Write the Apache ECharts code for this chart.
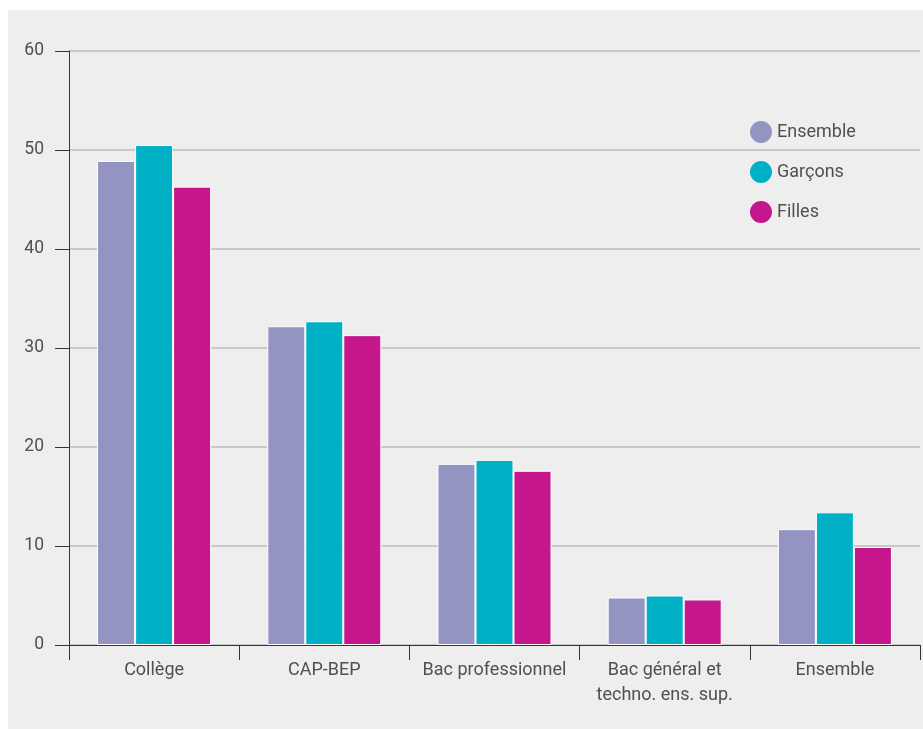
<!DOCTYPE html>
<html>
<head>
<meta charset="utf-8">
<script src="https://cdn.jsdelivr.net/npm/echarts@6/dist/echarts.min.js"></script>
<style>
html,body{margin:0;padding:0;background:#ffffff;}
#chart{position:absolute;left:8px;top:10px;width:915px;height:719px;}
</style>
</head>
<body>
<div id="chart"></div>
<script>
var categories = ['Collège', 'CAP-BEP', 'Bac professionnel', 'Bac général et\ntechno. ens. sup.', 'Ensemble'];
var seriesNames = ['Ensemble', 'Garçons', 'Filles'];
var ensemble = [48.9, 32.2, 18.3, 4.8, 11.7];
var garcons = [50.5, 32.7, 18.7, 5.0, 13.4];
var filles = [46.3, 31.3, 17.6, 4.6, 9.9];
var yTicks = { min: 0, max: 60, interval: 10 };
var colors = ['#9494c2', '#00b0c4', '#c5168c'];

var chart = echarts.init(document.getElementById('chart'));
var font = 'Roboto, "Liberation Sans", sans-serif';
var data = [ensemble, garcons, filles];
chart.setOption({
  backgroundColor: '#eeeeee',
  animation: false,
  textStyle: { fontFamily: font },
  grid: { left: 61, top: 41, right: 3, bottom: 84, containLabel: false },
  legend: {
    orient: 'vertical',
    left: 737, top: 106,
    icon: 'circle',
    itemWidth: 22, itemHeight: 22,
    itemGap: 18,
    itemStyle: { borderWidth: 0 },
    textStyle: { fontSize: 18, color: '#505050', fontFamily: font },
    data: seriesNames
  },
  xAxis: {
    type: 'category',
    data: categories,
    axisLine: { show: true, lineStyle: { color: '#333', width: 1 } },
    axisTick: { show: true, length: 15, lineStyle: { color: '#333' } },
    axisLabel: { fontSize: 18, color: '#505050', margin: 13, lineHeight: 25, interval: 0, fontFamily: font }
  },
  yAxis: {
    type: 'value',
    min: yTicks.min, max: yTicks.max, interval: yTicks.interval,
    axisLine: { show: true, lineStyle: { color: '#333', width: 1 } },
    axisTick: { show: true, length: 14, lineStyle: { color: '#333' } },
    axisLabel: { fontSize: 17.5, color: '#505050', margin: 25, fontFamily: font },
    splitLine: { show: true, lineStyle: { color: '#bcbcbc', width: 1.5 } }
  },
  series: seriesNames.map(function (n, i) {
    return {
      name: n,
      type: 'bar',
      data: data[i],
      barGap: '0%',
      barCategoryGap: '33%',
      itemStyle: { color: colors[i], borderColor: '#ffffff', borderWidth: 1 }
    };
  })
});
</script>
</body>
</html>
